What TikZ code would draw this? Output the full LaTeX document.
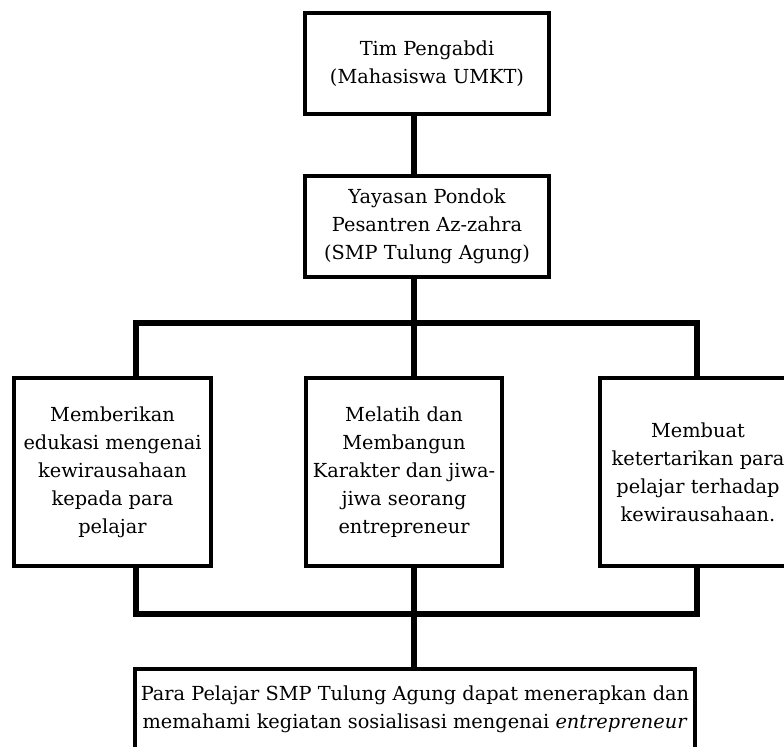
\documentclass[tikz,border=0pt]{standalone}
\usepackage{fontspec}
\setmainfont{DejaVu Serif}
\begin{document}
\begin{tikzpicture}[x=0.75pt,y=-0.75pt,
 box/.style={draw,line width=2.6pt,align=center,inner sep=0pt,
  font=\fontsize{14.5}{21}\selectfont},
 link/.style={line width=4.5pt}]
 \useasboundingbox (0,0) rectangle (784,746);
 \clip (0,0) rectangle (784,746);
 % kotak atas
 \node[box,minimum width=183pt,minimum height=75.75pt] (tim) at (427,63.5) {Tim Pengabdi\\(Mahasiswa UMKT)};
 \node[box,minimum width=183pt,minimum height=75.75pt] (yayasan) at (427,226.5) {Yayasan Pondok\\Pesantren Az-zahra\\(SMP Tulung Agung)};
 % tiga kegiatan
 \node[box,minimum width=147.75pt,minimum height=141pt] (edukasi) at (112.5,472) {Memberikan\\edukasi mengenai\\kewirausahaan\\kepada para\\pelajar};
 \node[box,minimum width=147pt,minimum height=141pt] (melatih) at (404,472) {Melatih dan\\Membangun\\Karakter dan jiwa-\\jiwa seorang\\entrepreneur};
 \node[box,minimum width=147pt,minimum height=141pt] (membuat) at (698,472) {Membuat\\ketertarikan para\\pelajar terhadap\\kewirausahaan.};
 % hasil
 \node[box,minimum width=420pt,minimum height=60pt] (hasil) at (415,709) {Para Pelajar SMP Tulung Agung dapat menerapkan dan\\memahami kegiatan sosialisasi mengenai \textit{entrepreneur}};
 \coordinate (xl) at (136,0);
 \coordinate (xr) at (697,0);
 \coordinate (atas) at (414,323);
 \coordinate (bawah) at (414,614);
 \draw[link] (tim.south -| atas) -- (yayasan.north -| atas);
 \draw[link] (yayasan.south -| atas) -- (melatih.north -| atas);
 \draw[link] (edukasi.north -| xl) |- (atas) -| (membuat.north -| xr);
 \draw[link] (edukasi.south -| xl) |- (bawah) -| (membuat.south -| xr);
 \draw[link] (melatih.south -| bawah) -- (hasil.north -| bawah);
\end{tikzpicture}
\end{document}
